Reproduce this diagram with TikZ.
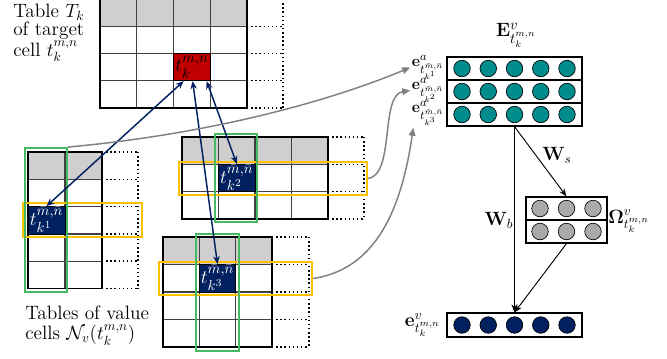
\documentclass[tikz,border=0pt]{standalone}
\usepackage{amsmath}
\usetikzlibrary{arrows.meta,calc}
\definecolor{hdrgray}{RGB}{208,206,206}
\definecolor{cellred}{RGB}{192,0,0}
\definecolor{navy}{RGB}{0,32,96}
\definecolor{tealc}{RGB}{0,140,140}
\definecolor{circgray}{RGB}{170,170,170}
\definecolor{grn}{RGB}{70,185,100}
\definecolor{ylw}{RGB}{255,192,0}
\definecolor{arrgray}{RGB}{128,128,128}
% #1 x0, #2 y0, #3 ncols, #4 nrows, #5 colw, #6 rowh, #7 dotted width
\newcommand{\drawtbl}[7]{%
  \pgfmathsetmacro{\xe}{#1+#3*#5}%
  \pgfmathsetmacro{\ye}{#2+#4*#6}%
  \pgfmathsetmacro{\xd}{\xe+#7}%
  \pgfmathtruncatemacro{\nc}{#3-1}%
  \pgfmathtruncatemacro{\nr}{#4-1}%
  \fill[hdrgray] (#1,#2) rectangle (\xe,{#2+#6});
  \foreach \i in {1,...,\nc} \draw[innerline] ({#1+\i*#5},#2) -- ({#1+\i*#5},\ye);
  \foreach \j in {1,...,\nr} \draw[innerline] (#1,{#2+\j*#6}) -- (\xe,{#2+\j*#6});
  \foreach \j in {0,...,#4} \draw[dotline] (\xe,{#2+\j*#6}) -- (\xd,{#2+\j*#6});
  \draw[dotline] (\xd,#2) -- (\xd,\ye);
  \draw[outerline] (#1,#2) rectangle (\xe,\ye);
}
\begin{document}
\begin{tikzpicture}[x=0.75pt,y=-0.75pt,font=\fontsize{12}{14}\selectfont,
  innerline/.style={draw=black!75,line width=0.9pt},
  outerline/.style={draw=black,line width=1.1pt},
  dotline/.style={draw=black,line width=1.1pt,dotted},
  darkcell/.style={fill=navy,draw=black,line width=0.6pt,text=white,inner sep=0pt,font=\fontsize{15.5}{15.5}\selectfont},
  greenbox/.style={draw=grn,line width=1.4pt,inner sep=0pt},
  yellowbox/.style={draw=ylw,line width=1.5pt,inner sep=0pt},
  navyarrow/.style={draw=navy,line width=1.1pt,{Stealth[length=6pt,width=5pt]}-{Stealth[length=6pt,width=5pt]}},
  blackarrow/.style={draw=black,line width=0.7pt,-{Stealth[length=6pt,width=4.5pt]}},
  grayarrow/.style={draw=arrgray,line width=1.1pt,-{Triangle[length=6pt,width=5pt]}},
  vecrow/.style={draw=black,line width=0.9pt,inner sep=0pt,minimum height=17.25pt},
  dot/.style={circle,draw=black,line width=0.5pt,minimum size=12.4pt,inner sep=0pt},
  biglabel/.style={inner sep=0pt,font=\fontsize{14}{14}\selectfont},
  alabel/.style={anchor=east,inner sep=1pt,font=\fontsize{12.5}{13}\selectfont}]
\useasboundingbox (0,0) rectangle (667,358);

% ---------- tables ----------
\drawtbl{100}{-1}{4}{4}{36.75}{27.25}{36}
\drawtbl{28}{152}{2}{5}{37}{27.3}{36}
\drawtbl{182}{137}{4}{3}{36.5}{27.33}{36}
\drawtbl{163}{237}{3}{4}{36.33}{27.5}{37}

% target cell and value cells
\node[fill=cellred,draw=black,line width=0.6pt,inner sep=0pt,minimum width=27.56pt,minimum height=20.44pt,font=\fontsize{15.5}{15.5}\selectfont] (c0) at (191.9,67.1) {$t_k^{m,n}$};
\node[darkcell,minimum width=27.75pt,minimum height=20.5pt] (c1) at (46.5,220.25) {$t^{\bar m,\bar n}_{k^1}$};
\node[darkcell,minimum width=27.4pt,minimum height=20.5pt] (c2) at (236.75,178) {$t^{\bar m,\bar n}_{k^2}$};
\node[darkcell,minimum width=27.25pt,minimum height=20.6pt] (c3) at (217.5,278.25) {$t^{\bar m,\bar n}_{k^3}$};

% yellow (rows) and green (columns) frames
\node[yellowbox,minimum width=89.25pt,minimum height=25.5pt] (y1) at (82.5,220) {};
\node[yellowbox,minimum width=141pt,minimum height=24.75pt] (y2) at (273,178.5) {};
\node[yellowbox,minimum width=114.75pt,minimum height=24.75pt] (y3) at (235.5,278.5) {};
\node[greenbox,minimum width=31.5pt,minimum height=108pt] (g1) at (46,220) {};
\node[greenbox,minimum width=31.5pt,minimum height=66pt] (g2) at (236,178) {};
\node[greenbox,minimum width=32.25pt,minimum height=87.75pt] (g3) at (217.5,292.5) {};

% left texts
\node[anchor=north west,inner sep=0pt,align=left,font=\fontsize{14.5}{14}\selectfont] (ttop) at (13,3.5) {Table $T_k$\\of target\\cell $t_k^{m,n}$};
\node[anchor=north west,inner sep=0pt,align=left,font=\fontsize{14.5}{15}\selectfont] (tbot) at (25,306) {Tables of value\\cells $\mathcal{N}_v(t_k^{m,n})$};

% ---------- right side ----------
\node[vecrow,minimum width=101.25pt] (r1) at (514.5,68.5) {};
\node[vecrow,minimum width=101.25pt] (r2) at (514.5,91.5) {};
\node[vecrow,minimum width=101.25pt] (r3) at (514.5,114.5) {};
\foreach \i in {0,...,4} {
  \node[dot,fill=tealc] (da\i) at ({462+26.25*\i},68.5) {};
  \node[dot,fill=tealc] (db\i) at ({462+26.25*\i},91.5) {};
  \node[dot,fill=tealc] (dc\i) at ({462+26.25*\i},114.5) {};
}
\node[inner sep=0pt,font=\fontsize{15}{15}\selectfont] (Elab) at (516,35) {$\mathbf{E}^v_{t_k^{m,n}}$};
\node[alabel] (ea1) at ($(r1.west)+(-1,-1)$) {$\mathbf{e}^a_{t^{\bar m,\bar n}_{k^1}}$};
\node[alabel] (ea2) at ($(r2.west)+(-1,-1)$) {$\mathbf{e}^a_{t^{\bar m,\bar n}_{k^2}}$};
\node[alabel] (ea3) at ($(r3.west)+(-1,-1)$) {$\mathbf{e}^a_{t^{\bar m,\bar n}_{k^3}}$};

\node[vecrow,minimum width=60.75pt] (om1) at (566.5,208.5) {};
\node[vecrow,minimum width=60.75pt] (om2) at (566.5,231.5) {};
\foreach \i in {0,1,2} {
  \node[dot,fill=circgray] (oa\i) at ({540+26.5*\i},208.5) {};
  \node[dot,fill=circgray] (ob\i) at ({540+26.5*\i},231.5) {};
}
\node[biglabel,anchor=west] (omlab) at (608,221) {$\boldsymbol{\Omega}^v_{t_k^{m,n}}$};

\node[vecrow,minimum width=101.25pt,minimum height=18pt] (ev) at (514.5,325) {};
\foreach \i in {0,...,4} {
  \node[dot,fill=navy] (de\i) at ({462+26.25*\i},325) {};
}
\node[biglabel,anchor=east] (evlab) at ($(ev.west)+(-6,0)$) {$\mathbf{e}^v_{t_k^{m,n}}$};

\node[biglabel] (Ws) at (557,155) {$\mathbf{W}_s$};
\node[biglabel] (Wb) at (499,220) {$\mathbf{W}_b$};

% black connectors
\draw[blackarrow] (r3.south) -- (ev.north);
\draw[blackarrow] (r3.south) -- (om1.north);
\draw[blackarrow] (om2.south) -- (ev.north);

% navy double arrows
\draw[navyarrow] ($(c0.south west)+(10.5,0)$) -- (c1.north);
\draw[navyarrow] ($(c0.south west)+(33.5,0)$) -- (c2.north);
\draw[navyarrow] ($(c0.south west)+(19.5,0)$) -- (c3.north);

% gray arrows
\draw[grayarrow] (g1.north east) .. controls (200,135) and (320,105) .. (ea1.west);
\draw[grayarrow] (y2.east) .. controls (395,175) and (380,95) .. (ea2.west);
\draw[grayarrow] (y3.east) .. controls (370,270) and (400,220) .. ($(ea3.south west)+(3,1)$);
\end{tikzpicture}
\end{document}
